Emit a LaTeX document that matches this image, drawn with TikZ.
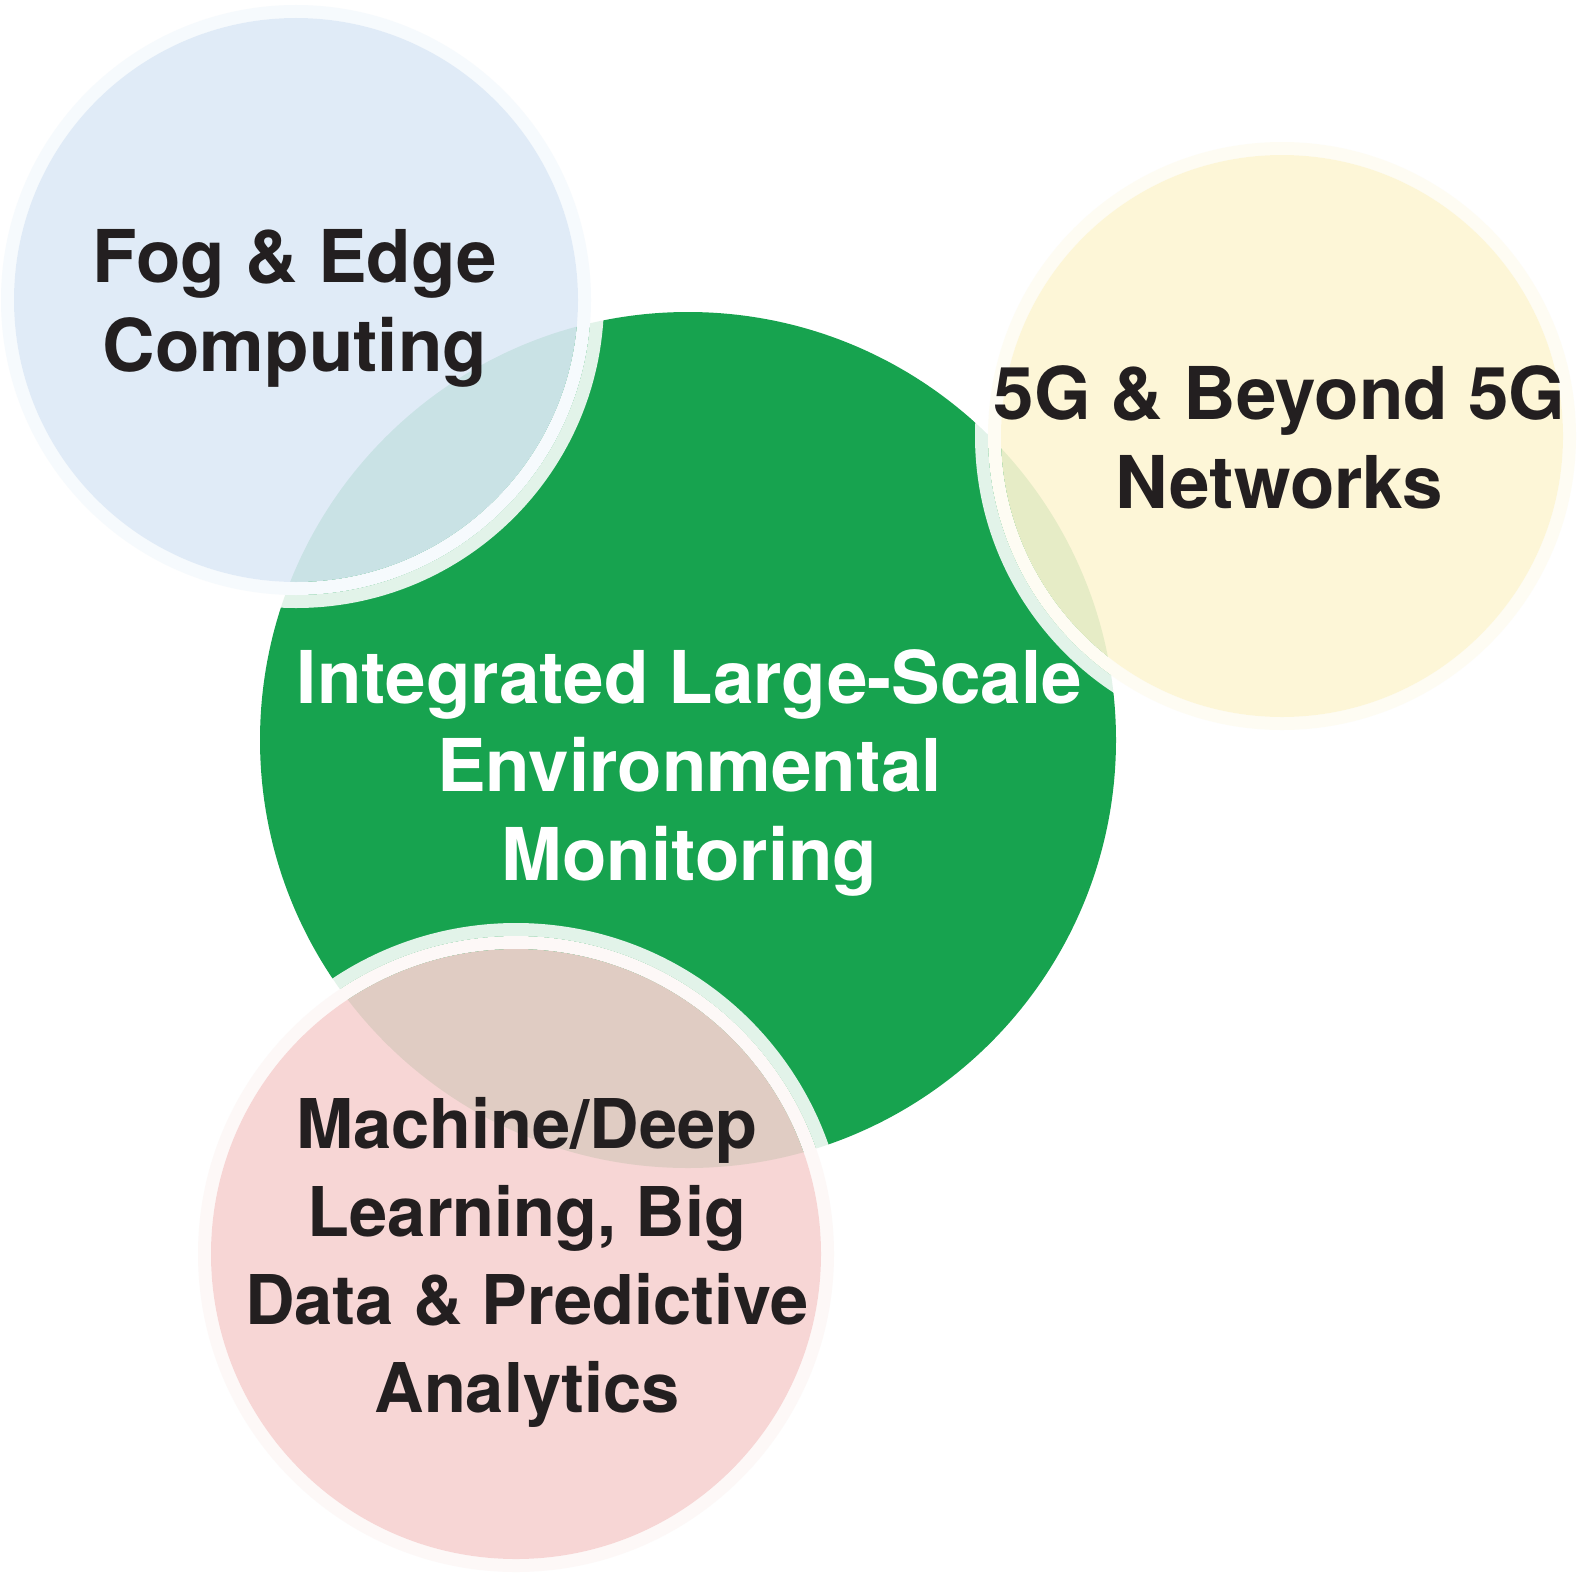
\documentclass[tikz,border=0pt]{standalone}
\usepackage{fontspec}
\setmainfont{TeX Gyre Heros}
\definecolor{cgreen}{HTML}{17A34F}
\definecolor{cblue}{HTML}{DDE9F6}
\definecolor{cbluehalo}{HTML}{F6FAFD}
\definecolor{cyellow}{HTML}{FDF5D3}
\definecolor{cyellowhalo}{HTML}{FEFCF3}
\definecolor{cpink}{HTML}{F6D1D0}
\definecolor{cpinkhalo}{HTML}{FDF8F7}
\definecolor{ctext}{HTML}{231F20}
\tikzset{
  lbl/.style={anchor=base, inner sep=0pt, text=ctext,
    font=\fontsize{36.4}{44.2}\selectfont\bfseries},
  smalllbl/.style={lbl, font=\fontsize{34.3}{44.0}\selectfont\bfseries},
  whitelbl/.style={lbl, text=white},
  outerband/.style={fill=white, fill opacity=0.88, even odd rule},
}
\newcommand{\satcircle}[4]{% center, radius, fill, halo
  \fill[outerband] (#1) circle ({#2+26}) (#1) circle ({#2+13});
  \fill[#4, even odd rule] (#1) circle ({#2+13}) (#1) circle (#2);
  \fill[#3, fill opacity=0.9] (#1) circle (#2);
}
\newcommand{\lines}[1]{\begin{tabular}[t]{@{}c@{}}#1\end{tabular}}
\begin{document}
\begin{tikzpicture}[x=0.5pt,y=-0.5pt]
\useasboundingbox (0,0) rectangle (1594,1584);
\coordinate (green) at (688,740);
\coordinate (blue) at (296,300);
\coordinate (yellow) at (1282,436);
\coordinate (pink) at (516,1254);
\fill[cgreen] (green) circle (428);
\satcircle{blue}{282}{cblue}{cbluehalo}
\satcircle{yellow}{281}{cyellow}{cyellowhalo}
\satcircle{pink}{305}{cpink}{cpinkhalo}
\node[lbl] (fog) at (294.8,282.6) {\lines{Fog \& Edge\\Computing}};
\node[lbl] (net) at (1279.5,419.9) {\lines{5G \& Beyond 5G\\Networks}};
\node[whitelbl] (env) at (689.5,703.5) {\lines{Integrated Large-Scale\\Environmental\\Monitoring}};
\node[smalllbl] (ml) at (527,1148.8) {\lines{Machine/Deep\\Learning, Big\\Data \& Predictive\\Analytics}};
\end{tikzpicture}
\end{document}
